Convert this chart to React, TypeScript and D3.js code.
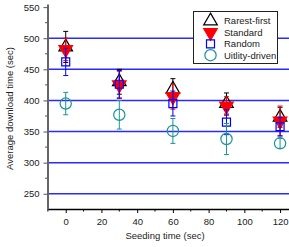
import React, { useRef, useEffect } from 'react';
import * as d3 from 'd3';

// seeding times on the x axis
const seedingTimes = [0, 30, 60, 90, 120];

// mean download time and error (half-height) per series
const rarestMean = [486, 430, 418, 395, 373];
const rarestErr = [25, 20, 17, 17, 16];
const standardMean = [482, 425, 406, 391, 367];
const standardErr = [18, 22, 20, 15, 24];
const randomMean = [462, 426, 395, 365, 358];
const randomErr = [22, 22, 20, 20, 15];
const utilityMean = [395, 377, 351, 338, 331];
const utilityErr = [18, 23, 20, 25, 8];

const xTicks = [0, 20, 40, 60, 80, 100, 120];
const yTicks = [250, 300, 350, 400, 450, 500, 550];
const gridValues = [250, 300, 350, 400, 450, 500];

const seriesNames = ['Rarest-first', 'Standard', 'Random', 'Uitlity-driven'];

const App = () => {
  const chartRef = useRef<SVGSVGElement>(null);

  useEffect(() => {
    drawChart();
  }, []);

  const drawChart = () => {
    const svg = d3.select(chartRef.current);
    svg.selectAll('*').remove();

    const left = 47.5;
    const right = 289;
    const top = 4;
    const bottom = 209;

    const xScale = d3.scaleLinear().domain([-10.2, 125]).range([left, right]);
    const yScale = d3.scaleLinear().domain([225.5, 555]).range([bottom, top]);

    const font = 'Liberation Sans, Arial, sans-serif';

    // blue horizontal lines
    svg
      .append('g')
      .selectAll('line')
      .data(gridValues)
      .enter()
      .append('line')
      .attr('x1', left)
      .attr('x2', right)
      .attr('y1', (d) => yScale(d))
      .attr('y2', (d) => yScale(d))
      .attr('stroke', '#2a2aff')
      .attr('stroke-width', 1.5);

    // axes
    const xAxis = d3.axisBottom(xScale).tickValues(xTicks).tickSize(4).tickSizeOuter(0);
    const yAxis = d3.axisLeft(yScale).tickValues(yTicks).tickSize(4).tickSizeOuter(0);

    const gx = svg.append('g').attr('transform', `translate(0,${bottom})`).call(xAxis);
    gx.select('.domain').attr('stroke', '#000').attr('stroke-width', 1.5);
    gx.selectAll('.tick line').attr('stroke', '#000').attr('stroke-width', 1);
    gx.selectAll('.tick text').attr('font-family', font).attr('font-size', 9.5).attr('fill', '#222').attr('dy', '0.9em');

    // x minor ticks
    svg
      .append('g')
      .selectAll('line')
      .data([-10, 10, 30, 50, 70, 90, 110])
      .enter()
      .append('line')
      .attr('x1', (d) => xScale(d))
      .attr('x2', (d) => xScale(d))
      .attr('y1', bottom)
      .attr('y2', bottom + 2.5)
      .attr('stroke', '#000');

    const gy = svg.append('g').attr('transform', `translate(${left},0)`).call(yAxis);
    gy.select('.domain').attr('stroke', '#666').attr('stroke-width', 2);
    gy.selectAll('.tick line').attr('stroke', '#555');
    gy.selectAll('.tick text').attr('font-family', font).attr('font-size', 9.5).attr('fill', '#222').attr('dx', '-0.1em');

    // y minor ticks
    svg
      .append('g')
      .selectAll('line')
      .data([275, 325, 375, 425, 475, 525])
      .enter()
      .append('line')
      .attr('x1', left - 2.5)
      .attr('x2', left)
      .attr('y1', (d) => yScale(d))
      .attr('y2', (d) => yScale(d))
      .attr('stroke', '#555');

    // axis titles
    svg
      .append('text')
      .attr('transform', `translate(13,${(top + bottom) / 2 + 2}) rotate(-90)`)
      .attr('text-anchor', 'middle')
      .attr('font-family', font)
      .attr('font-size', 9.5)
      .attr('fill', '#222')
      .text('Average download time (sec)');

    svg
      .append('text')
      .attr('x', 165)
      .attr('y', 239)
      .attr('text-anchor', 'middle')
      .attr('font-family', font)
      .attr('font-size', 9.5)
      .attr('fill', '#222')
      .text('Seeding time (sec)');

    const series = [
      { mean: rarestMean, err: rarestErr, color: '#000000', symbol: d3.symbolTriangle, size: 80, fill: 'none', rotate: 0 },
      { mean: standardMean, err: standardErr, color: '#ff0000', symbol: d3.symbolTriangle, size: 80, fill: '#ff0000', rotate: 180 },
      { mean: randomMean, err: randomErr, color: '#0000ff', symbol: d3.symbolSquare, size: 64, fill: 'none', rotate: 0 },
      { mean: utilityMean, err: utilityErr, color: '#1a9494', symbol: d3.symbolCircle, size: 100, fill: 'none', rotate: 0 },
    ];

    series.forEach((s) => {
      const g = svg.append('g');
      const pts = seedingTimes.map((t, i) => ({ t, v: s.mean[i], e: s.err[i] }));

      // error bars
      const eb = g.selectAll('.eb').data(pts).enter().append('g').attr('stroke', s.color).attr('stroke-width', 1);
      eb.append('line')
        .attr('x1', (d) => xScale(d.t))
        .attr('x2', (d) => xScale(d.t))
        .attr('y1', (d) => yScale(d.v + d.e))
        .attr('y2', (d) => yScale(d.v - d.e));
      eb.append('line')
        .attr('x1', (d) => xScale(d.t) - 2.5)
        .attr('x2', (d) => xScale(d.t) + 2.5)
        .attr('y1', (d) => yScale(d.v + d.e))
        .attr('y2', (d) => yScale(d.v + d.e));
      eb.append('line')
        .attr('x1', (d) => xScale(d.t) - 2.5)
        .attr('x2', (d) => xScale(d.t) + 2.5)
        .attr('y1', (d) => yScale(d.v - d.e))
        .attr('y2', (d) => yScale(d.v - d.e));

      // markers
      g.selectAll('.mk')
        .data(pts)
        .enter()
        .append('path')
        .attr('d', d3.symbol().type(s.symbol).size(s.size))
        .attr('transform', (d) => `translate(${xScale(d.t)},${yScale(d.v)}) rotate(${s.rotate})`)
        .attr('fill', s.fill)
        .attr('stroke', s.color)
        .attr('stroke-width', 1.2);
    });

    // legend
    const lg = svg.append('g');
    lg.append('rect')
      .attr('x', 193.5)
      .attr('y', 11.5)
      .attr('width', 84)
      .attr('height', 52)
      .attr('fill', '#fff')
      .attr('stroke', '#222')
      .attr('stroke-width', 1);

    series.forEach((s, i) => {
      const cy = 21 + i * 11.4;
      lg.append('path')
        .attr('d', d3.symbol().type(s.symbol).size(s.size)())
        .attr('transform', `translate(210.5,${cy}) rotate(${s.rotate})`)
        .attr('fill', s.fill)
        .attr('stroke', s.color)
        .attr('stroke-width', 1.2);
      lg.append('text')
        .attr('x', 224)
        .attr('y', cy + 3.3)
        .attr('font-family', font)
        .attr('font-size', 9.5)
        .attr('fill', '#222')
        .text(seriesNames[i]);
    });
  };

  return (
    <svg
      ref={chartRef}
      width={289}
      height={247}
      style={{ position: 'fixed', left: 0, top: 0, background: '#fff', display: 'block' }}
    />
  );
};

export default App;
